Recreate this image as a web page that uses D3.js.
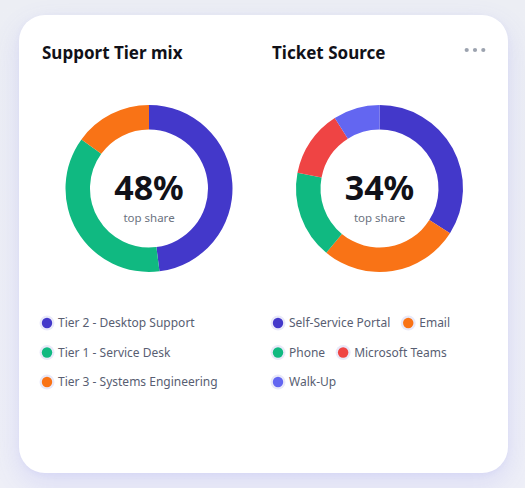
<!DOCTYPE html>
<html><head><meta charset="utf-8">
<script src="https://cdn.jsdelivr.net/npm/d3@7"></script>
<style>
html,body{margin:0;padding:0;}
body{width:525px;height:488px;overflow:hidden;background:linear-gradient(180deg,#eceef4 0%,#eeeff7 100%);font-family:"Noto Sans",sans-serif;position:relative;}
#card{position:absolute;left:19px;top:15px;width:489px;height:458px;background:#fff;border-radius:26px;box-shadow:0 10px 28px rgba(99,102,241,0.14),0 2px 6px rgba(99,102,241,0.06);}
svg{position:absolute;left:0;top:0;}
</style></head>
<body><div id="card"></div><svg id="chart" width="525" height="488"></svg>
<script>
const tierCategories = ["Tier 2 - Desktop Support","Tier 1 - Service Desk","Tier 3 - Systems Engineering"];
const tierValues = [48,37,15];
const tierColors = ["#4338ca","#10b981","#f97316"];

const sourceCategories = ["Self-Service Portal","Email","Phone","Microsoft Teams","Walk-Up"];
const sourceValues = [34,27,17,13,9];
const sourceColors = ["#4338ca","#f97316","#10b981","#ef4444","#6366f1"];

const svg = d3.select("#chart");

function panel(opts){
  const g = svg.append("g");
  g.append("text").attr("x",opts.titleX).attr("y",58.5)
    .attr("font-size",17).attr("font-weight",700).attr("fill","#111118").text(opts.title);
  const pie = d3.pie().sort(null).value(d=>d.v);
  const data = opts.cats.map((c,i)=>({c, v:opts.vals[i], col:opts.cols[i]}));
  const arc = d3.arc().innerRadius(59).outerRadius(83.5);
  const dg = g.append("g").attr("transform",`translate(${opts.cx},188.5)`);
  dg.selectAll("path").data(pie(data)).join("path").attr("d",arc).attr("fill",d=>d.data.col);
  const total = d3.sum(opts.vals);
  const top = Math.round(d3.max(opts.vals)/total*100);
  dg.append("text").attr("text-anchor","middle").attr("y",11).attr("font-size",34).attr("font-weight",700)
    .attr("fill","#111118").text(top+"%");
  dg.append("text").attr("text-anchor","middle").attr("y",33).attr("font-size",11.5)
    .attr("fill","#6b7280").text("top share");
  // legend with wrapping
  let x = opts.legX, y = 323;
  data.forEach(d=>{
    const item = g.append("g");
    const t = item.append("text").attr("x",19).attr("y",4.3).attr("font-size",12).attr("fill","#585e72").text(d.c);
    const w = 19 + t.node().getComputedTextLength();
    if (x !== opts.legX && x + w > opts.legMax){ x = opts.legX; y += 29.5; }
    item.insert("circle","text").attr("cx",8).attr("cy",0).attr("r",7.5).attr("fill","#e9e9f9");
    item.insert("circle","text").attr("cx",8).attr("cy",0).attr("r",5.2).attr("fill",d.col);
    item.attr("transform",`translate(${x},${y})`);
    x += w + 10;
  });
}

panel({title:"Support Tier mix", titleX:42, cx:149, cats:tierCategories, vals:tierValues, cols:tierColors, legX:39, legMax:262});
panel({title:"Ticket Source", titleX:272, cx:379.5, cats:sourceCategories, vals:sourceValues, cols:sourceColors, legX:270, legMax:492});

svg.append("g").selectAll("circle").data([0,1,2]).join("circle")
  .attr("cx",d=>466.7+d*8.3).attr("cy",50).attr("r",2.1).attr("fill","#9ca3af");
</script></body></html>
